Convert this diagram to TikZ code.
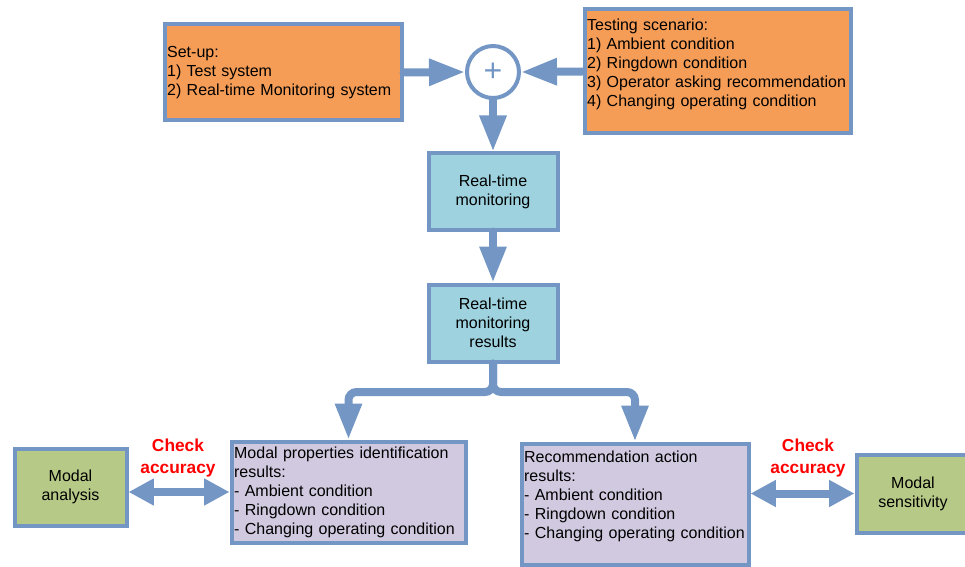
\documentclass[tikz,border=0pt]{standalone}
\usepackage{fontspec}
\setmainfont{Liberation Sans}
\usetikzlibrary{arrows.meta, positioning}
\definecolor{edgeblue}{RGB}{115,150,196}
\definecolor{setorange}{RGB}{245,157,87}
\definecolor{monblue}{RGB}{157,210,222}
\definecolor{reslilac}{RGB}{209,201,223}
\definecolor{refgreen}{RGB}{182,201,134}
\newcommand{\padlast}[1]{\rule[-#1]{0pt}{#1}}
\tikzset{
  box/.style={draw=edgeblue, line width=3pt, inner xsep=2pt, inner ysep=2pt,
              font=\fontsize{12pt}{14.25pt}\selectfont},
  listbox/.style={box, align=left},
  midbox/.style={box, align=center},
  flow/.style={draw=edgeblue, line width=6pt, line cap=round,
               -{Triangle[length=27pt,width=19pt]}},
  twoway/.style={draw=edgeblue, line width=6pt,
               {Triangle[length=19pt,width=19pt]}-{Triangle[length=19pt,width=19pt]}},
  checklabel/.style={text=red, align=center,
               font=\fontsize{13pt}{16.5pt}\selectfont\bfseries}
}
\begin{document}
\begin{tikzpicture}[x=0.75pt, y=-0.75pt]
  \useasboundingbox (0,0) rectangle (965,567);
  % inputs
  \node[listbox, fill=setorange, text width=173.75pt, minimum height=72pt] (setup) at (283,72.5)
    {Set-up:\\1) Test system\\2) Real-time Monitoring system};
  \node[listbox, fill=setorange, text width=195.5pt, minimum height=93pt] (scenario) at (717.5,71.5)
    {Testing scenario:\\1) Ambient condition\\2) Ringdown condition\\3) Operator asking recommendation\\4) Changing operating condition\padlast{13.5pt}};
  \node[circle, draw=edgeblue, line width=3pt, fill=white, minimum size=39pt, inner sep=0pt,
        text=edgeblue, font=\fontsize{24pt}{24pt}\selectfont] (sum) at (493,72) {+};
  % monitoring chain
  \node[midbox, fill=monblue, minimum width=96.75pt, minimum height=57pt] (rtm) at (493,191.5)
    {Real-time\\monitoring};
  \node[midbox, fill=monblue, minimum width=96.75pt, minimum height=57.75pt] (rtmres) at (493,323)
    {Real-time\\monitoring\\results};
  % results
  \node[listbox, fill=reslilac, text width=171.5pt, minimum height=75.75pt] (modalres) at (348.5,492)
    {Modal properties identification\\results:\\- Ambient condition\\- Ringdown condition\\- Changing operating condition};
  \node[listbox, fill=reslilac, text width=166.25pt, minimum height=90.75pt] (recres) at (635,504)
    {Recommendation action\\results:\\- Ambient condition\\- Ringdown condition\\- Changing operating condition\padlast{14.25pt}};
  % references
  \node[midbox, fill=refgreen, minimum width=84pt, minimum height=57.75pt] (modalan) at (70.5,487)
    {Modal\\analysis};
  \node[midbox, fill=refgreen, minimum width=84.75pt, minimum height=58.5pt] (modalsens) at (913,493.5)
    {Modal\\sensitivity};
  \node[checklabel] (checkl) at (178,458) {Check\\accuracy};
  \node[checklabel] (checkr) at (808,458) {Check\\accuracy};
  \coordinate (split) at (493,392);
  % connectors
  \draw[flow] (setup.east) -- (sum.west);
  \draw[flow] (scenario.west) -- (sum.east);
  \draw[flow] (sum.south) -- (rtm.north);
  \draw[flow] (rtm.south) -- (rtmres.north);
  \draw[flow, rounded corners=6pt] (rtmres.south) -- (split) -| (modalres.north);
  \draw[flow, rounded corners=6pt] (rtmres.south) -- (split) -| (recres.north);
  \draw[twoway] (modalan.east |- modalres.west) -- (modalres.west);
  \draw[twoway] (recres.east |- modalsens.west) -- (modalsens.west);
\end{tikzpicture}
\end{document}
